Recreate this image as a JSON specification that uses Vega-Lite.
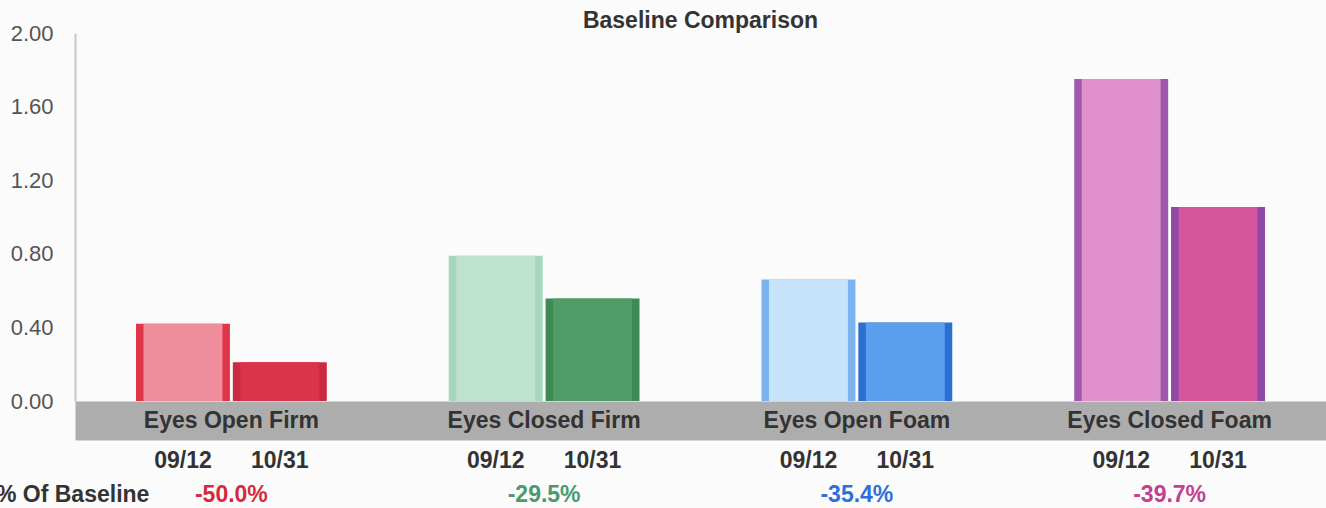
{
  "$schema": "https://vega.github.io/schema/vega-lite/v6.json",
  "width": 1251,
  "height": 368,
  "autosize": {"type": "none"},
  "padding": {"left": 75, "top": 33, "right": 0, "bottom": 107},
  "background": "#fbfbfb",
  "config": {"view": {"stroke": null}, "font": "Liberation Sans"},
  "title": {"text": "Baseline Comparison", "fontSize": 23, "fontWeight": "bold", "color": "#333333", "anchor": "middle", "offset": -11, "font": "Liberation Sans"},
  "datasets": {
    "bars": [
      {"category": "Eyes Open Firm", "date": "09/12", "bar": "Eyes Open Firm 09/12", "value": 0.42},
      {"category": "Eyes Open Firm", "date": "10/31", "bar": "Eyes Open Firm 10/31", "value": 0.21},
      {"category": "Eyes Closed Firm", "date": "09/12", "bar": "Eyes Closed Firm 09/12", "value": 0.79},
      {"category": "Eyes Closed Firm", "date": "10/31", "bar": "Eyes Closed Firm 10/31", "value": 0.557},
      {"category": "Eyes Open Foam", "date": "09/12", "bar": "Eyes Open Foam 09/12", "value": 0.66},
      {"category": "Eyes Open Foam", "date": "10/31", "bar": "Eyes Open Foam 10/31", "value": 0.426},
      {"category": "Eyes Closed Foam", "date": "09/12", "bar": "Eyes Closed Foam 09/12", "value": 1.75},
      {"category": "Eyes Closed Foam", "date": "10/31", "bar": "Eyes Closed Foam 10/31", "value": 1.055}
    ],
    "changes": [
      {"category": "Eyes Open Firm", "change": "-50.0%"},
      {"category": "Eyes Closed Firm", "change": "-29.5%"},
      {"category": "Eyes Open Foam", "change": "-35.4%"},
      {"category": "Eyes Closed Foam", "change": "-39.7%"}
    ],
    "rowlabel": [
      {"category": "Eyes Open Firm", "label": "% Of Baseline"}
    ]
  },
  "layer": [
    {
      "data": {"name": "bars"},
      "mark": {"type": "bar"},
      "encoding": {
        "x": {
          "field": "category", "type": "nominal",
          "sort": ["Eyes Open Firm", "Eyes Closed Firm", "Eyes Open Foam", "Eyes Closed Foam"],
          "scale": {"paddingInner": 0.39, "paddingOuter": 0.195},
          "axis": {"title": null, "ticks": false, "labels": false, "domainColor": "#adadad", "domainWidth": 39, "offset": 19.5}
        },
        "xOffset": {
          "field": "date", "type": "nominal", "sort": ["09/12", "10/31"],
          "scale": {"paddingInner": 0.03, "paddingOuter": 0}
        },
        "y": {
          "field": "value", "type": "quantitative",
          "scale": {"domain": [0, 2]},
          "axis": {"title": null, "values": [0, 0.4, 0.8, 1.2, 1.6, 2], "format": ".2f", "grid": false, "ticks": false, "labelFontSize": 22, "labelColor": "#555555", "labelPadding": 22, "domainColor": "#c8c8c8", "domainWidth": 2, "labelFont": "Liberation Sans"}
        },
        "fill": {
          "field": "bar", "type": "nominal", "legend": null,
          "scale": {
            "domain": ["Eyes Open Firm 09/12", "Eyes Open Firm 10/31", "Eyes Closed Firm 09/12", "Eyes Closed Firm 10/31", "Eyes Open Foam 09/12", "Eyes Open Foam 10/31", "Eyes Closed Foam 09/12", "Eyes Closed Foam 10/31"],
            "range": ["#df3649", "#c92a40", "#a6d7bc", "#3e8a55", "#7ab3f0", "#2a70d0", "#a058ae", "#8e48a6"]
          }
        }
      }
    },
    {
      "data": {"name": "bars"},
      "mark": {"type": "bar"},
      "encoding": {
        "x": {"field": "category", "type": "nominal", "sort": ["Eyes Open Firm", "Eyes Closed Firm", "Eyes Open Foam", "Eyes Closed Foam"]},
        "xOffset": {
          "field": "date", "type": "nominal", "sort": ["09/12", "10/31"],
          "scale": {"paddingInner": 0.1853, "paddingOuter": 0.0777}
        },
        "y": {"field": "value", "type": "quantitative"},
        "color": {
          "field": "bar", "type": "nominal", "legend": null,
          "scale": {
            "domain": ["Eyes Open Firm 09/12", "Eyes Open Firm 10/31", "Eyes Closed Firm 09/12", "Eyes Closed Firm 10/31", "Eyes Open Foam 09/12", "Eyes Open Foam 10/31", "Eyes Closed Foam 09/12", "Eyes Closed Foam 10/31"],
            "range": ["#ee8e9c", "#d8344b", "#bde3cf", "#529c67", "#c6e3fa", "#5aa0ef", "#e090ca", "#d4559c"]
          }
        }
      }
    },
    {
      "data": {"name": "changes"},
      "mark": {"type": "text", "dy": 20, "fontSize": 23, "fontWeight": "bold", "color": "#333333", "baseline": "middle", "align": "center", "font": "Liberation Sans"},
      "encoding": {
        "x": {"field": "category", "type": "nominal", "sort": ["Eyes Open Firm", "Eyes Closed Firm", "Eyes Open Foam", "Eyes Closed Foam"]},
        "y": {"datum": 0, "type": "quantitative"},
        "text": {"field": "category", "type": "nominal"}
      }
    },
    {
      "data": {"name": "bars"},
      "mark": {"type": "text", "dy": 60, "fontSize": 23, "fontWeight": "bold", "color": "#333333", "baseline": "middle", "align": "center", "font": "Liberation Sans"},
      "encoding": {
        "x": {"field": "category", "type": "nominal", "sort": ["Eyes Open Firm", "Eyes Closed Firm", "Eyes Open Foam", "Eyes Closed Foam"]},
        "xOffset": {"field": "date", "type": "nominal", "sort": ["09/12", "10/31"], "scale": {"type": "point", "padding": 0.485}},
        "y": {"datum": 0, "type": "quantitative"},
        "text": {"field": "date", "type": "nominal"}
      }
    },
    {
      "data": {"name": "changes"},
      "mark": {"type": "text", "dy": 94, "fontSize": 23, "fontWeight": "bold", "baseline": "middle", "align": "center", "font": "Liberation Sans"},
      "encoding": {
        "x": {"field": "category", "type": "nominal", "sort": ["Eyes Open Firm", "Eyes Closed Firm", "Eyes Open Foam", "Eyes Closed Foam"]},
        "y": {"datum": 0, "type": "quantitative"},
        "text": {"field": "change", "type": "nominal"},
        "fill": {
          "field": "category", "type": "nominal", "legend": null,
          "scale": {"domain": ["Eyes Open Firm", "Eyes Closed Firm", "Eyes Open Foam", "Eyes Closed Foam"], "range": ["#d42a3c", "#4a9a6c", "#2f6fd8", "#c2408f"]}
        }
      }
    },
    {
      "data": {"name": "rowlabel"},
      "mark": {"type": "text", "dy": 94, "dx": -82, "fontSize": 23, "fontWeight": "bold", "color": "#333333", "baseline": "middle", "align": "right", "font": "Liberation Sans"},
      "encoding": {
        "x": {"field": "category", "type": "nominal", "sort": ["Eyes Open Firm", "Eyes Closed Firm", "Eyes Open Foam", "Eyes Closed Foam"]},
        "y": {"datum": 0, "type": "quantitative"},
        "text": {"field": "label", "type": "nominal"}
      }
    }
  ],
  "resolve": {"scale": {"fill": "independent", "xOffset": "independent"}}
}
